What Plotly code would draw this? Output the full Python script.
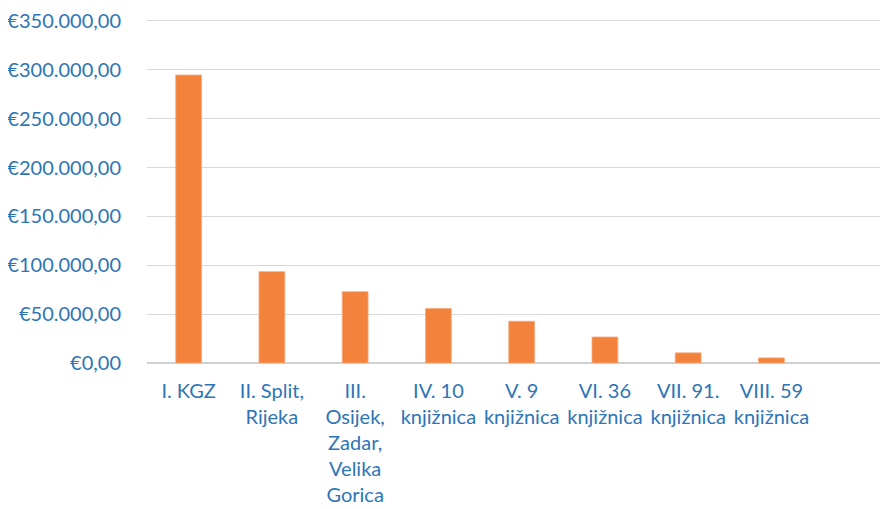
import plotly.graph_objects as go

categories = [
    "I. KGZ",
    "II. Split,<br>Rijeka",
    "III.<br>Osijek,<br>Zadar,<br>Velika<br>Gorica",
    "IV. 10<br>knjižnica",
    "V. 9<br>knjižnica",
    "VI. 36<br>knjižnica",
    "VII. 91.<br>knjižnica",
    "VIII. 59<br>knjižnica",
]
values = [294700, 93500, 73000, 55800, 42700, 26600, 10400, 5200]
tick_vals = [0, 50000, 100000, 150000, 200000, 250000, 300000, 350000]
tick_text = ["€0,00", "€50.000,00", "€100.000,00", "€150.000,00",
             "€200.000,00", "€250.000,00", "€300.000,00", "€350.000,00"]

BLUE = "#2E75B6"
ORANGE = "#F3823D"

fig = go.Figure(
    go.Bar(
        x=categories,
        y=values,
        marker=dict(color=ORANGE, line=dict(color="#F7A978", width=0.8)),
        width=0.31,
        hoverinfo="skip",
    )
)

# page body has an 8px default margin, so the figure is 8px smaller
fig.update_layout(
    width=880,
    height=501,
    margin=dict(l=139, r=0, t=11, b=146),
    plot_bgcolor="white",
    paper_bgcolor="white",
    showlegend=False,
    font=dict(family="Lato, Carlito, Calibri, sans-serif", color=BLUE),
    xaxis=dict(
        type="category",
        range=[-0.5, 8.4],
        showgrid=False,
        showline=False,
        ticks="",
        tickfont=dict(size=20, color=BLUE),
        tickangle=0,
        ticklabelstandoff=14,
        ticklabeloverflow="allow",
        automargin=False,
    ),
    yaxis=dict(
        range=[0, 352000],
        tickvals=tick_vals,
        ticktext=tick_text,
        showgrid=True,
        gridcolor="#D9D9D9",
        gridwidth=1.3,
        zeroline=True,
        zerolinecolor="#D0D0D0",
        zerolinewidth=1.5,
        showline=False,
        ticks="",
        tickfont=dict(size=20, color=BLUE),
        ticklabelstandoff=25,
        ticklabeloverflow="allow",
        automargin=False,
    ),
)

fig.write_html("out.html")
